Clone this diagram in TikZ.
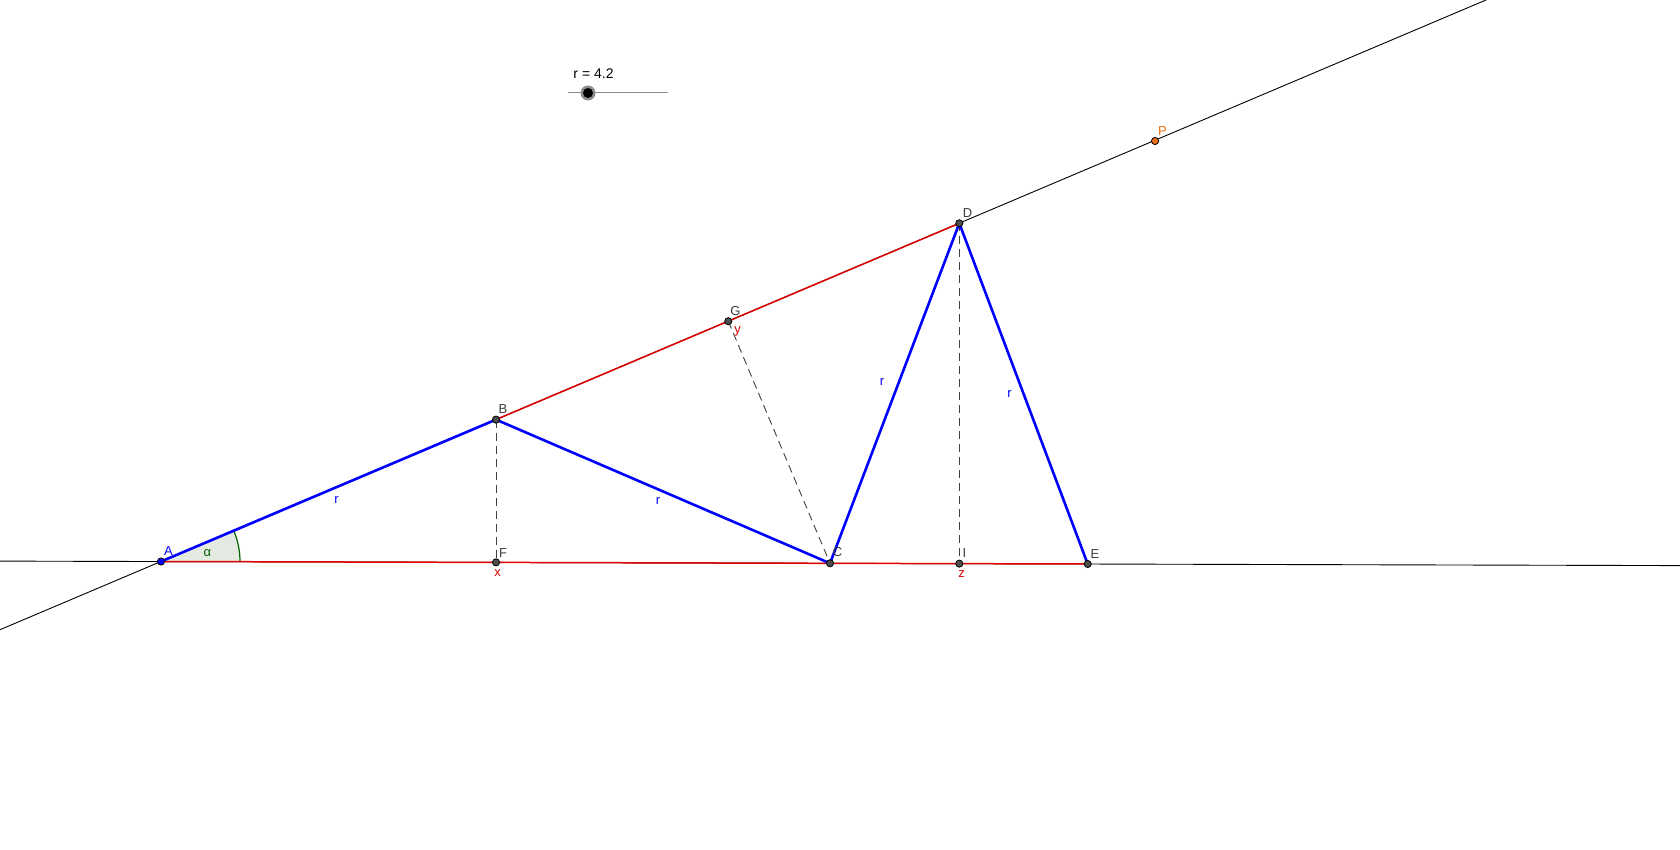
\documentclass[tikz,border=0pt]{standalone}
\usepackage{fontspec}
\setmainfont{Liberation Sans}
\usetikzlibrary{positioning}
\definecolor{ggblue}{RGB}{0,0,255}
\definecolor{ggred}{RGB}{220,0,0}
\definecolor{ggpoint}{RGB}{77,77,77}
\definecolor{gglabel}{RGB}{60,60,60}
\definecolor{ggorange}{RGB}{230,110,20}
\definecolor{gggreen}{RGB}{0,100,0}
\definecolor{ggangle}{RGB}{228,234,226}
\tikzset
{
    ggpt/.style     = {circle, draw=black, line width=0.4pt, fill=#1, inner sep=0pt, minimum size=3.6pt},
    ggpt/.default   = ggpoint,
    ptlabel/.style  = {text=#1, font=\fontsize{6.5}{7}\selectfont, inner sep=0pt},
    ptlabel/.default= gglabel,
    side/.style     = {draw=ggblue, line width=1.3pt},
    part/.style     = {draw=ggred, line width=0.75pt},
    axis/.style     = {draw=black, line width=0.45pt},
    drop/.style     = {draw=black!75, line width=0.45pt, dash pattern=on 4pt off 2.5pt}
}
\begin{document}
\begin{tikzpicture}[x=0.5pt, y=-0.5pt]
		\useasboundingbox (0,0) rectangle (1680,850);
		% geometry
		\coordinate (A)   at (161,561.5);
		\coordinate (B)   at (496,419.6);
		\coordinate (C)   at (830,563.3);
		\coordinate (D)   at (959.3,223.3);
		\coordinate (E)   at (1087.7,564);
		\coordinate (F)   at (496,562.4);
		\coordinate (G)   at (728.3,321.2);
		\coordinate (I)   at (959.3,563.6);
		\coordinate (P)   at (1155,141);
		\coordinate (Lw)  at (0,629.7);
		\coordinate (Ln)  at (1486,0);
		\coordinate (Hw)  at (0,561.1);
		\coordinate (He)  at (1680,565.6);
		\coordinate (s0)  at (568,93);
		\coordinate (s1)  at (667.5,93);
		\coordinate (knob) at (588,93);
		% angle alpha
		\fill[ggangle] (A) -- ++(-0.15:39.5pt) arc[start angle=-0.15, end angle=22.96, radius=39.5pt] -- cycle;
		\draw[gggreen, line width=0.6pt] (A) ++(-0.15:39.5pt) arc[start angle=-0.15, end angle=22.96, radius=39.5pt];
		% lines
		\draw[axis] (Lw) -- (Ln);
		\draw[axis] (Hw) -- (He);
		\draw[part] (A) -- (D);
		\draw[part] (A) -- (E);
		\draw[drop] (B) -- (F);
		\draw[drop] (G) -- (C);
		\draw[drop] (D) -- (I);
		\draw[side] (A) -- (B) -- (C) -- (D) -- (E);
		% slider
		\draw[black!45, line width=0.5pt] (s0) -- (s1);
		\node (knobo) [circle, fill=black!45, inner sep=0pt, minimum size=7.5pt] at (knob) {};
		\node (knobi) [circle, fill=black, inner sep=0pt, minimum size=5pt] at (knob) {};
		\node (slbl)  [ptlabel=black, font=\fontsize{7}{8}\selectfont] at (593.5,74) {r = 4.2};
		% points
		\node (mA) [ggpt=ggblue]   at (A) {};
		\node (mB) [ggpt]          at (B) {};
		\node (mC) [ggpt]          at (C) {};
		\node (mD) [ggpt]          at (D) {};
		\node (mE) [ggpt]          at (E) {};
		\node (mF) [ggpt]          at (F) {};
		\node (mG) [ggpt]          at (G) {};
		\node (mI) [ggpt]          at (I) {};
		\node (mP) [ggpt=ggorange] at (P) {};
		% labels
		\node (lA) [ptlabel=ggblue]   at (168.5,551)  {A};
		\node (lB) [ptlabel]          at (503,409)    {B};
		\node (lC) [ptlabel]          at (837.5,552.5){C};
		\node (lD) [ptlabel]          at (967.5,213)  {D};
		\node (lE) [ptlabel]          at (1095,554)   {E};
		\node (lF) [ptlabel]          at (503,553)    {F};
		\node (lG) [ptlabel]          at (735.5,311.5){G};
		\node (lI) [ptlabel]          at (964.5,553)  {I};
		\node (lP) [ptlabel=ggorange] at (1162.5,131) {P};
		\node (lx) [ptlabel=ggred]    at (497.5,573.5){x};
		\node (ly) [ptlabel=ggred]    at (737.5,331)  {y};
		\node (lz) [ptlabel=ggred]    at (961.5,574)  {z};
		\node (la) [ptlabel=gggreen]  at (207.5,553)  {α};
		\node (r1) [ptlabel=ggblue]   at (336.5,500)  {r};
		\node (r2) [ptlabel=ggblue]   at (658,501)    {r};
		\node (r3) [ptlabel=ggblue]   at (882,382.5)  {r};
		\node (r4) [ptlabel=ggblue]   at (1009.5,394.5){r};
	\end{tikzpicture}
\end{document}
